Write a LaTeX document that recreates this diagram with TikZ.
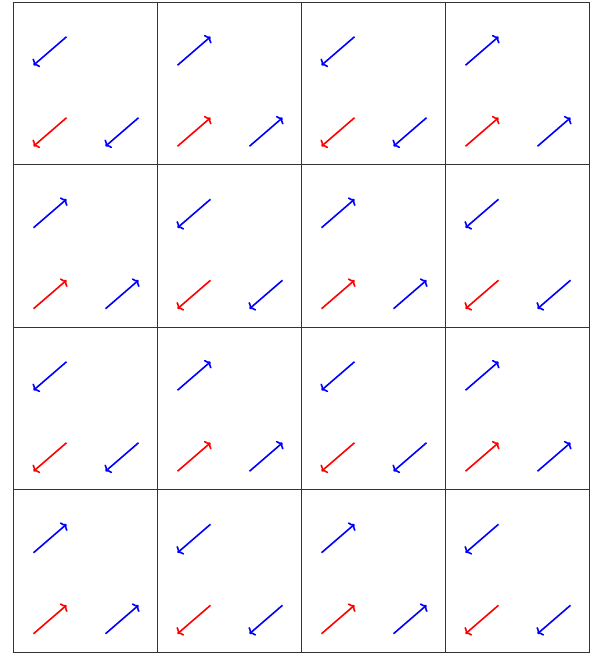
\documentclass[tikz,border=0pt]{standalone}
\usepackage{tikz}
\usetikzlibrary{arrows.meta}
\tikzset{spin/.style={-{To[length=4.5pt,width=11pt]}, line width=1.6pt}}

\begin{document}
\begin{tikzpicture}[x=1pt,y=-1pt]
  \useasboundingbox (0,0) rectangle (590,653);
  % checkerboard of cells, all three spins of a cell point the same way
  \foreach \i in {0,...,3}
    \foreach \j in {0,...,3} {
      \pgfmathsetmacro{\cx}{13+144*\i}
      \pgfmathsetmacro{\cy}{2+162.5*\j}
      \pgfmathsetmacro{\a}{mod(\i+\j,2)==1 ? -40.8 : 139.2}
      \draw[line width=0.8pt, black!80] (\cx,\cy) rectangle ++(144,162.5);
      \coordinate (top) at (\cx+37,\cy+49);
      \coordinate (left) at (\cx+37,\cy+130);
      \coordinate (right) at (\cx+109,\cy+130);
      \draw[spin, blue] (top) ++(\a+180:21.8) -- ++(\a:43.6);
      \draw[spin, red] (left) ++(\a+180:21.8) -- ++(\a:43.6);
      \draw[spin, blue] (right) ++(\a+180:21.8) -- ++(\a:43.6);
    }
\end{tikzpicture}
\end{document}
